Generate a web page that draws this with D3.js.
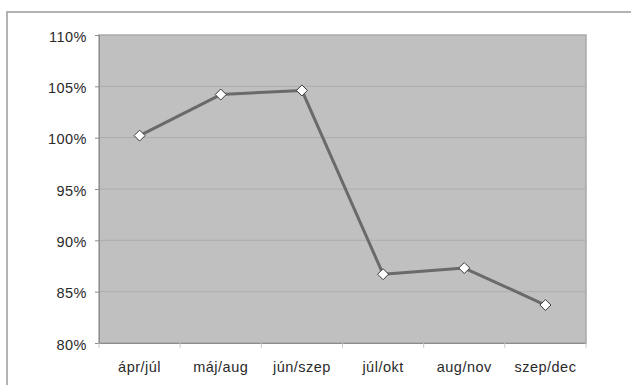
<!DOCTYPE html>
<html>
<head>
<meta charset="utf-8">
<script src="https://cdn.jsdelivr.net/npm/d3@7"></script>
<style>
  html, body { margin: 0; padding: 0; background: #fff; }
  svg { display: block; }
  text { font-family: "Liberation Sans", Arial, sans-serif; }
</style>
</head>
<body>
<svg id="chart" width="631" height="385"></svg>
<script>
// Periods (shifted three-month pairs) and their index values, in percent
const categories = ["ápr/júl", "máj/aug", "jún/szep", "júl/okt", "aug/nov", "szep/dec"];
const values = [100.2, 104.2, 104.6, 86.7, 87.3, 83.7];
const yTicks = [80, 85, 90, 95, 100, 105, 110];

const svg = d3.select("#chart");
const W = 631, H = 385;
const m = { left: 99, right: 45, top: 35, bottom: 42 };
const innerW = W - m.left - m.right;
const innerH = H - m.top - m.bottom;

// Outer chart frame (top and left edges visible)
svg.append("path")
  .attr("d", `M7,${H} L7,12 L${W},12`)
  .attr("fill", "none")
  .attr("stroke", "#b3b3b3")
  .attr("stroke-width", 2);

const x = d3.scaleBand().domain(categories).range([0, innerW]).padding(0);
const y = d3.scaleLinear().domain([80, 110]).range([innerH, 0]);

const g = svg.append("g").attr("transform", `translate(${m.left},${m.top})`);

// Plot area
g.append("rect")
  .attr("width", innerW).attr("height", innerH)
  .attr("fill", "#c0c0c0")
  .attr("stroke", "#a9a9a9").attr("stroke-width", 1.5);

// Horizontal gridlines
g.append("g").selectAll("line").data(yTicks.slice(1, -1)).join("line")
  .attr("x1", 0).attr("x2", innerW)
  .attr("y1", d => y(d)).attr("y2", d => y(d))
  .attr("stroke", "#acacac").attr("stroke-width", 1);

const labelStyle = sel => sel
  .attr("fill", "#2a2a2a")
  .style("font-size", "14.5px")
  .style("letter-spacing", "0.5px");

// Y axis
const yAxis = g.append("g")
  .call(d3.axisLeft(y).tickValues(yTicks).tickFormat(d => d + "%").tickSize(4).tickPadding(8));
yAxis.select(".domain").attr("stroke", "#8c8c8c");
yAxis.selectAll(".tick line").attr("stroke", "#8c8c8c");
yAxis.selectAll("text").call(labelStyle).attr("dy", "0.42em");

// X axis with tick marks at category boundaries
const xAxis = g.append("g").attr("transform", `translate(0,${innerH})`)
  .call(d3.axisBottom(x).tickSize(0).tickPadding(19));
xAxis.select(".domain").attr("stroke", "#8c8c8c");
xAxis.selectAll("text").call(labelStyle);
g.append("g").attr("transform", `translate(0,${innerH})`)
  .selectAll("line").data(d3.range(categories.length + 1)).join("line")
  .attr("x1", i => i * x.step()).attr("x2", i => i * x.step())
  .attr("y1", 0).attr("y2", 5)
  .attr("stroke", "#c8c8c8");

// Series line
const pts = categories.map((c, i) => [x(c) + x.bandwidth() / 2, y(values[i])]);
g.append("path")
  .attr("d", d3.line()(pts))
  .attr("fill", "none")
  .attr("stroke", "#6a6a6a")
  .attr("stroke-width", 3)
  .attr("stroke-linejoin", "round");

// Diamond markers
g.append("g").selectAll("path").data(pts).join("path")
  .attr("transform", d => `translate(${d[0]},${d[1]})`)
  .attr("d", "M0,-5.5 L5.5,0 L0,5.5 L-5.5,0 Z")
  .attr("fill", "#fff")
  .attr("stroke", "#3a3a3a")
  .attr("stroke-width", 1);
</script>
</body>
</html>
